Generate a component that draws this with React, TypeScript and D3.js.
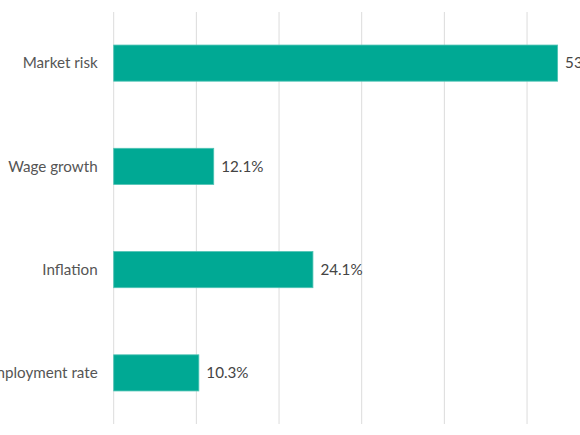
import React, { useEffect, useRef } from 'react';
import * as d3 from 'd3';

const categories = ['Market risk', 'Wage growth', 'Inflation', 'Unemployment rate'];
const values = [53.7, 12.1, 24.1, 10.3];
const gridTicks = [0, 10, 20, 30, 40, 50, 60];

export default function App() {
  const ref = useRef<SVGSVGElement>(null);

  useEffect(() => {
    if (!ref.current) return;
    const width = 580;
    const height = 435;
    const left = 113.7;
    const top = 12;
    const bottom = 424;

    const svg = d3.select(ref.current);
    svg.selectAll('*').remove();

    const x = d3.scaleLinear().domain([0, 60]).range([left, left + 496]);
    const y = d3.scaleBand<string>()
      .domain(categories)
      .range([top, bottom])
      .paddingInner(0.65)
      .paddingOuter(0.32);

    // gridlines
    svg.append('g')
      .selectAll('line')
      .data(gridTicks)
      .enter()
      .append('line')
      .attr('x1', d => x(d))
      .attr('x2', d => x(d))
      .attr('y1', top)
      .attr('y2', bottom)
      .attr('stroke', '#dcdcdc')
      .attr('stroke-width', 1);

    const rows = categories.map((c, i) => ({ c, v: values[i] }));

    // bars
    svg.append('g')
      .selectAll('rect')
      .data(rows)
      .enter()
      .append('rect')
      .attr('x', x(0))
      .attr('y', d => y(d.c)!)
      .attr('width', d => x(d.v) - x(0))
      .attr('height', y.bandwidth())
      .attr('fill', '#00a994')
      .attr('stroke', '#4fc3b4')
      .attr('stroke-width', 0.8);

    // category labels
    svg.append('g')
      .selectAll('text')
      .data(rows)
      .enter()
      .append('text')
      .attr('x', left - 16)
      .attr('y', d => y(d.c)! + y.bandwidth() / 2)
      .attr('dy', '0.35em')
      .attr('text-anchor', 'end')
      .attr('font-family', 'Lato, sans-serif')
      .attr('font-size', '15.2px')
      .attr('fill', '#555')
      .text(d => d.c);

    // value labels
    svg.append('g')
      .selectAll('text')
      .data(rows)
      .enter()
      .append('text')
      .attr('x', d => x(d.v) + 7.5)
      .attr('y', d => y(d.c)! + y.bandwidth() / 2)
      .attr('dy', '0.35em')
      .attr('font-family', 'Lato, sans-serif')
      .attr('font-size', '15.2px')
      .attr('fill', '#444')
      .text(d => `${d.v}%`);

    svg.attr('width', width).attr('height', height);
  }, []);

  return (
    <svg
      ref={ref}
      width={580}
      height={435}
      style={{ position: 'absolute', left: 0, top: 0, background: '#fff' }}
    />
  );
}
